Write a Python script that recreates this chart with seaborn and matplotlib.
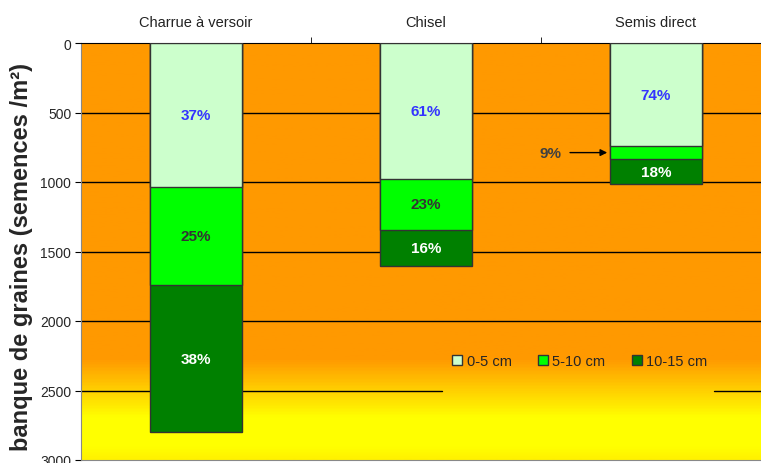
import numpy as np
import pandas as pd
import matplotlib
matplotlib.use('Agg')
import matplotlib.pyplot as plt
from matplotlib.colors import LinearSegmentedColormap
from matplotlib.patches import Patch
import seaborn as sns

# data (seeds / m2 per soil layer)
techniques = ['Charrue à versoir', 'Chisel', 'Semis direct']
layers = ['0-5 cm', '5-10 cm', '10-15 cm']
seeds_0_5 = [1035, 978, 742]
seeds_5_10 = [705, 367, 93]
seeds_10_15 = [1060, 258, 180]
pct_0_5 = ['37%', '61%', '74%']
pct_5_10 = ['25%', '23%', '9%']
pct_10_15 = ['38%', '16%', '18%']
y_ticks = [0, 500, 1000, 1500, 2000, 2500, 3000]

layer_colors = ['#CCFFCC', '#00FF00', '#008000']
label_colors = ['#3333FF', '#333333', '#FFFFFF']

sns.set_style('white')
plt.rcParams['font.family'] = ['Liberation Sans', 'DejaVu Sans']

df = pd.DataFrame({
    'technique': techniques,
    'l1': seeds_0_5,
    'l2': seeds_5_10,
    'l3': seeds_10_15,
})
df['c1'] = df['l1']
df['c2'] = df['c1'] + df['l2']
df['c3'] = df['c2'] + df['l3']

fig = plt.figure(figsize=(7.61, 4.64), dpi=100)
# plot area runs a bit past the right edge of the picture
ax = fig.add_axes([81 / 761, 3 / 464, 690 / 761, 417 / 464])

# background: orange fading to yellow near the bottom
cmap = LinearSegmentedColormap.from_list(
    'bg', [(0, '#FF9900'), (0.76, '#FF9900'), (0.9, '#FFFF00'), (0.97, '#FFFF00'), (1, '#FFF200')])
grad = np.linspace(0, 1, 400).reshape(-1, 1)
ax.imshow(grad, extent=[-0.5, 2.5, 3000, 0], aspect='auto', cmap=cmap, zorder=0)

# grid lines (the legend hides part of the 2500 one)
for v in y_ticks[1:-2]:
    ax.axhline(v, color='black', lw=1, zorder=1)
ax.axhline(2500, xmin=0, xmax=0.523, color='black', lw=1, zorder=1)
ax.axhline(2500, xmin=0.917, xmax=1, color='black', lw=1, zorder=1)

# stacked bars drawn back to front with cumulative totals
for col, c in zip(['c3', 'c2', 'c1'], layer_colors[::-1]):
    sns.barplot(data=df, x='technique', y=col, color=c, width=0.4, errorbar=None,
                edgecolor='#333333', linewidth=1, saturation=1, ax=ax, zorder=3)

# percentage labels
pcts = [pct_0_5, pct_5_10, pct_10_15]
for i in range(len(techniques)):
    prev = 0
    for j, col in enumerate(['l1', 'l2', 'l3']):
        val = df[col][i]
        mid = prev + val / 2
        if val > 150:
            ax.text(i, mid, pcts[j][i], ha='center', va='center', fontsize=11,
                    fontweight='bold', color=label_colors[j], zorder=5)
        else:
            ax.annotate(pcts[j][i], xy=(i - 0.2, mid), xytext=(i - 0.46, mid),
                        ha='center', va='center', fontsize=11, fontweight='bold',
                        color='#404040', zorder=5,
                        arrowprops=dict(arrowstyle='-|>', color='black', lw=1,
                                        shrinkA=4, shrinkB=2, mutation_scale=10))
        prev += val

ax.set_xlim(-0.5, 2.5)
ax.set_ylim(3000, 0)
ax.set_yticks(y_ticks)
ax.set_yticklabels([str(t) for t in y_ticks], fontsize=10)

ax.xaxis.tick_top()
ax.set_xticks([0, 1, 2])
ax.set_xticklabels(techniques, fontsize=10.5, color='#222222')
ax.set_xticks([0.5, 1.5], minor=True)
ax.tick_params(axis='x', which='major', length=0, pad=10)
ax.tick_params(axis='x', which='minor', top=True, length=4, color='black', direction='out')
ax.tick_params(axis='y', length=4, color='black', left=True, direction='out', pad=3)
ax.set_xlabel('')
ax.set_ylabel('banque de graines (semences /m²)', fontsize=17, fontweight='bold')
ax.yaxis.set_label_coords(-0.07, 0.49)

for s in ['left', 'bottom']:
    ax.spines[s].set_color('#888888')
ax.spines['top'].set_color('black')
ax.spines['right'].set_visible(False)

handles = [Patch(facecolor=c, edgecolor='#333333', lw=1) for c in layer_colors]
fig.legend(handles, layers, loc='center', bbox_to_anchor=(0.762, 0.22), ncol=3,
           frameon=False, fontsize=10.5, handlelength=0.7, handleheight=0.7,
           handletextpad=0.3, columnspacing=1.8)

fig.savefig('out.png', dpi=100)
